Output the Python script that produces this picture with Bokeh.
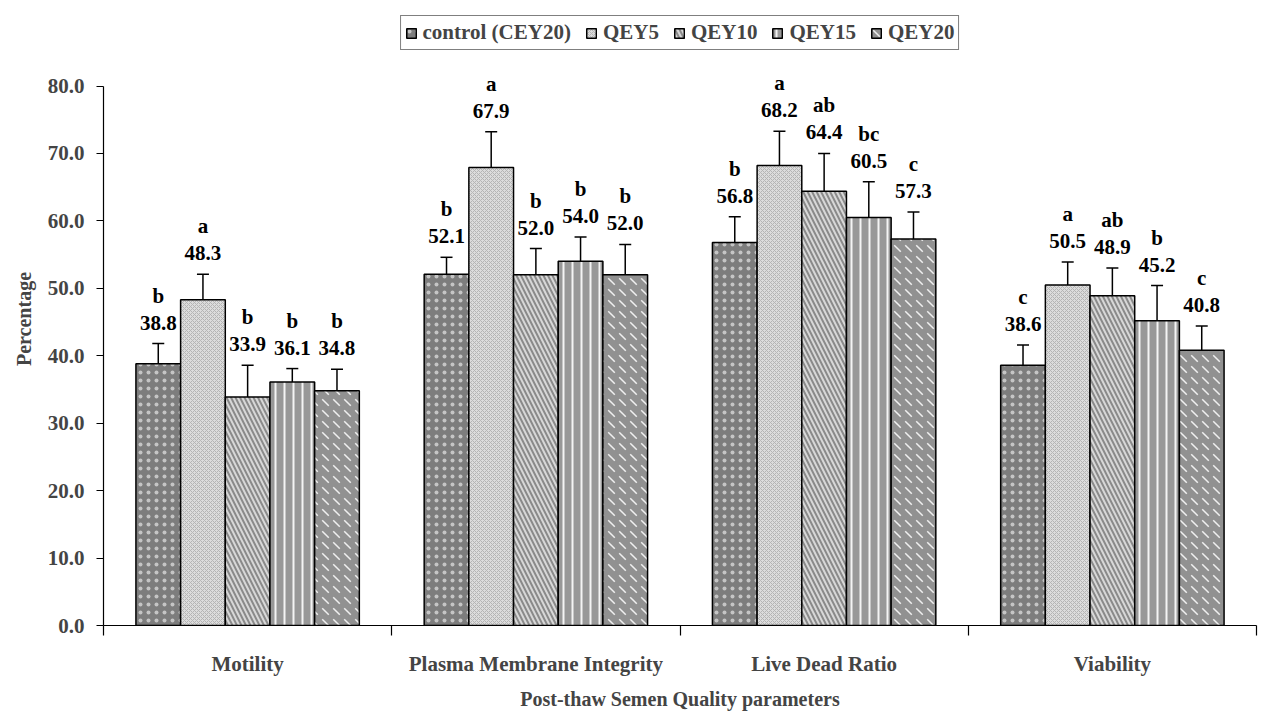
from bokeh.plotting import figure
from bokeh.models import (ColumnDataSource, Range1d, FixedTicker, NumeralTickFormatter,
                          Whisker, TeeHead, Legend, LegendItem)
from bokeh.core.properties import value
from bokeh.embed import file_html
from bokeh.resources import INLINE

categories = ["Motility", "Plasma Membrane Integrity", "Live Dead Ratio", "Viability"]
series_names = ["control (CEY20)", "QEY5", "QEY10", "QEY15", "QEY20"]

control = [38.8, 52.1, 56.8, 38.6]
qey5 = [48.3, 67.9, 68.2, 50.5]
qey10 = [33.9, 52.0, 64.4, 48.9]
qey15 = [36.1, 54.0, 60.5, 45.2]
qey20 = [34.8, 52.0, 57.3, 40.8]

err_control = [3.0, 2.5, 3.8, 3.0]
err_qey5 = [3.8, 5.3, 5.1, 3.4]
err_qey10 = [4.7, 3.9, 5.6, 4.1]
err_qey15 = [2.0, 3.6, 5.3, 5.2]
err_qey20 = [3.2, 4.5, 4.0, 3.6]

let_control = ["b", "b", "b", "c"]
let_qey5 = ["a", "a", "a", "a"]
let_qey10 = ["b", "b", "ab", "ab"]
let_qey15 = ["b", "b", "bc", "b"]
let_qey20 = ["b", "b", "c", "c"]

y_ticks = [0, 10, 20, 30, 40, 50, 60, 70, 80]

values = [control, qey5, qey10, qey15, qey20]
errors = [err_control, err_qey5, err_qey10, err_qey15, err_qey20]
letters = [let_control, let_qey5, let_qey10, let_qey15, let_qey20]

styles = [
    dict(fill_color="#7d7d7d", hatch_pattern="dot", hatch_color="#dddddd", hatch_alpha=0.75,
         hatch_scale=8, hatch_weight=0.5),
    dict(fill_color="#dcdcdc", hatch_pattern="diagonal_cross", hatch_color="#b4b4b4", hatch_scale=4, hatch_weight=1),
    dict(fill_color="#8a8a8a", hatch_pattern="left_diagonal_line", hatch_color="#d8d8d8", hatch_scale=9, hatch_weight=2),
    dict(fill_color="#989898", hatch_pattern="vertical_line", hatch_color="#f4f4f4", hatch_scale=9, hatch_weight=2),
    dict(fill_color="#919191", hatch_pattern="left_diagonal_dash", hatch_color="#f0f0f0", hatch_scale=11, hatch_weight=1.5),
]

FONT = "Liberation Serif"
FS = "21px"
centers = [i + 0.5 for i in range(len(categories))]
bar_w = 0.155

p = figure(width=1262, height=712, output_backend="svg", toolbar_location=None,
           x_range=Range1d(0, len(categories)), y_range=Range1d(0, 90.9),
           min_border_left=103, min_border_right=6, min_border_top=12, min_border_bottom=60)
p.outline_line_color = None
p.xgrid.grid_line_color = None
p.ygrid.grid_line_color = None
p.background_fill_color = "white"

items = []
for j, name in enumerate(series_names):
    off = (j - 2) * bar_w
    xs = [c + off for c in centers]
    tops = values[j]
    uppers = [v + e for v, e in zip(tops, errors[j])]
    src = ColumnDataSource(dict(x=xs, top=tops, upper=uppers,
                                lbl=["%.1f" % v for v in tops], let=letters[j]))
    r = p.vbar(x="x", top="top", width=bar_w, source=src, line_color="black",
               line_width=1.5, **styles[j])
    items.append(LegendItem(label=name, renderers=[r]))
    w = Whisker(base="x", lower="top", upper="upper", source=src, dimension="height",
                line_color="black", line_width=1.5, lower_head=None,
                upper_head=TeeHead(size=12, line_color="black", line_width=1.5))
    p.add_layout(w)
    p.text(x="x", y="upper", text="lbl", source=src, y_offset=-21,
           text_align="center", text_baseline="middle", text_font=value(FONT),
           text_font_style="bold", text_font_size=FS, text_color="black")
    p.text(x="x", y="upper", text="let", source=src, y_offset=-48,
           text_align="center", text_baseline="middle", text_font=value(FONT),
           text_font_style="bold", text_font_size=FS, text_color="black")

# y axis
yax = p.yaxis[0]
yax.bounds = (0, 80)
yax.ticker = FixedTicker(ticks=y_ticks, minor_ticks=[])
yax.formatter = NumeralTickFormatter(format="0.0")
yax.axis_label = "Percentage"
yax.axis_label_text_font = FONT
yax.axis_label_text_font_style = "bold"
yax.axis_label_text_font_size = "20px"
yax.axis_label_standoff = 10
yax.major_label_text_font = FONT
yax.major_label_text_font_style = "bold"
yax.major_label_text_font_size = FS
yax.major_label_standoff = 12
yax.major_tick_out = 7
yax.major_tick_in = 0
yax.axis_line_color = "black"
yax.axis_line_width = 1.2
yax.major_tick_line_width = 1.2

# x axis
xax = p.xaxis[0]
xax.ticker = FixedTicker(ticks=centers, minor_ticks=[float(i) for i in range(len(categories) + 1)])
xax.major_label_overrides = {c: cat for c, cat in zip(centers, categories)}
xax.major_tick_line_color = None
xax.major_tick_out = 0
xax.major_tick_in = 0
xax.minor_tick_out = 10
xax.minor_tick_in = 0
xax.minor_tick_line_color = "black"
xax.minor_tick_line_width = 1.2
xax.axis_line_color = "black"
xax.axis_line_width = 1.2
xax.major_label_text_font = FONT
xax.major_label_text_font_style = "bold"
xax.major_label_text_font_size = FS
xax.major_label_standoff = 16
xax.axis_label = "Post-thaw Semen Quality parameters"
xax.axis_label_text_font = FONT
xax.axis_label_text_font_style = "bold"
xax.axis_label_text_font_size = "20px"
xax.axis_label_standoff = 9

legend = Legend(items=items, orientation="horizontal", location="top_center",
                margin=3, padding=4, spacing=14, label_standoff=6,
                glyph_width=12, glyph_height=12,
                border_line_color="black", border_line_width=1.2,
                label_text_font=FONT, label_text_font_style="bold",
                label_text_font_size=FS, background_fill_alpha=1)
p.add_layout(legend)

open("out.html", "w").write(file_html(p, INLINE))
